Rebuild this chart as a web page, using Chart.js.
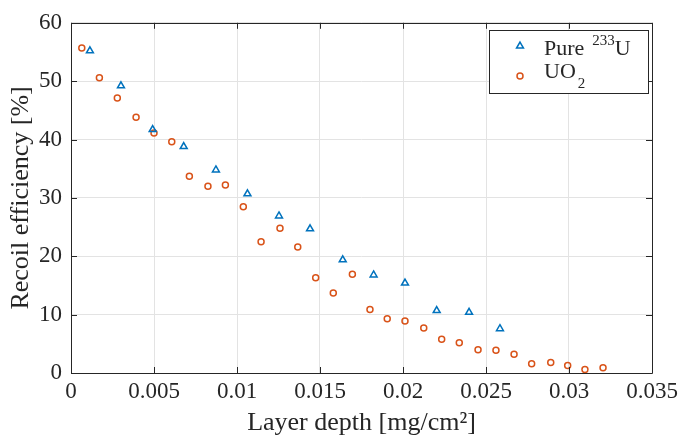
<!DOCTYPE html>
<html>
<head>
<meta charset="utf-8">
<script src="https://cdn.jsdelivr.net/npm/chart.js@4.4.0/dist/chart.umd.min.js"></script>
<style>
  html, body { margin: 0; padding: 0; background: #fff; }
</style>
</head>
<body>
<canvas id="chart" width="683" height="441"></canvas>
<script>
// Data
const pureDepth = [0.00114, 0.00301, 0.00492, 0.00679, 0.00873, 0.01063, 0.01253,
  0.0144, 0.01637, 0.01823, 0.02012, 0.02203, 0.02398, 0.02584];
const pureEff = [55.2, 49.2, 41.7, 38.8, 34.8, 30.7, 26.9, 24.7, 19.4, 16.8, 15.4, 10.7, 10.4, 7.6];

const uo2Depth = [0.00065, 0.00171, 0.00279, 0.00392, 0.0050, 0.00607, 0.00713, 0.00825,
  0.0093, 0.01038, 0.01145, 0.01259, 0.01366, 0.01474, 0.0158, 0.01695, 0.01801, 0.01905,
  0.02012, 0.02125, 0.02233, 0.02339, 0.02452, 0.0256, 0.02669, 0.02775, 0.0289, 0.02992,
  0.03096, 0.03205];
const uo2Eff = [55.7, 50.6, 47.1, 43.8, 41.1, 39.6, 33.7, 32.0, 32.2, 28.5, 22.5, 24.8,
  21.6, 16.3, 13.7, 16.9, 10.9, 9.3, 8.9, 7.7, 5.8, 5.2, 4.0, 3.9, 3.2, 1.6, 1.8, 1.3, 0.6, 0.9];

const xTicks = [0, 0.005, 0.01, 0.015, 0.02, 0.025, 0.03, 0.035];
const xTickLabels = ['0', '0.005', '0.01', '0.015', '0.02', '0.025', '0.03', '0.035'];
const yTicks = [0, 10, 20, 30, 40, 50, 60];
const yTickLabels = ['0', '10', '20', '30', '40', '50', '60'];

// Colours / fonts
const BLUE = '#0072BD';
const ORANGE = '#D95319';
const AXIS = '#262626';
const GRID = '#e3e3e3';
const SERIF = '"Liberation Serif", "DejaVu Serif", serif';

function toPoints(xs, ys) {
  return xs.map((x, i) => ({ x: x, y: ys[i] }));
}

// Box round the plot with inward ticks on all four sides
const boxPlugin = {
  id: 'box',
  afterDraw(chart) {
    const { ctx, chartArea: a, scales } = chart;
    const tick = 6;
    ctx.save();
    ctx.strokeStyle = AXIS;
    ctx.lineWidth = 1;
    ctx.beginPath();
    ctx.rect(Math.round(a.left) + 0.5, Math.round(a.top) + 0.5,
      Math.round(a.right - a.left), Math.round(a.bottom - a.top));
    xTicks.forEach(v => {
      const px = Math.round(scales.x.getPixelForValue(v)) + 0.5;
      ctx.moveTo(px, a.bottom); ctx.lineTo(px, a.bottom - tick);
      ctx.moveTo(px, a.top); ctx.lineTo(px, a.top + tick);
    });
    yTicks.forEach(v => {
      const py = Math.round(scales.y.getPixelForValue(v)) + 0.5;
      ctx.moveTo(a.left, py); ctx.lineTo(a.left + tick, py);
      ctx.moveTo(a.right, py); ctx.lineTo(a.right - tick, py);
    });
    ctx.stroke();
    ctx.restore();
  }
};

// Legend with proper super/subscripts
const legendPlugin = {
  id: 'texLegend',
  afterDraw(chart) {
    const ctx = chart.ctx;
    const bx = 489.5, by = 30.5, bw = 159, bh = 63;
    ctx.save();
    ctx.fillStyle = '#fff';
    ctx.fillRect(bx, by, bw, bh);
    ctx.strokeStyle = AXIS;
    ctx.lineWidth = 1;
    ctx.strokeRect(bx, by, bw, bh);

    const ds = chart.data.datasets;
    [[0, 46], [1, 76]].forEach(([i, y]) => {
      ctx.strokeStyle = ds[i].borderColor;
      ctx.fillStyle = 'rgba(0,0,0,0)';
      ctx.lineWidth = ds[i].borderWidth;
      Chart.helpers.drawPoint(ctx, {
        pointStyle: ds[i].pointStyle, radius: ds[i].pointRadius,
        borderWidth: ds[i].borderWidth, rotation: 0
      }, 520, y);
    });

    ctx.fillStyle = AXIS;
    ctx.textBaseline = 'alphabetic';
    ctx.textAlign = 'left';
    const big = '22px ' + SERIF, small = '15px ' + SERIF;
    let x = 544;
    ctx.font = big;
    ctx.fillText('Pure', x, 55);
    x += ctx.measureText('Pure').width + 8;
    ctx.font = small;
    ctx.fillText('233', x, 45);
    x += ctx.measureText('233').width;
    ctx.font = big;
    ctx.fillText('U', x, 55);

    x = 544;
    ctx.fillText('UO', x, 78);
    x += ctx.measureText('UO').width + 2;
    ctx.font = small;
    ctx.fillText('2', x, 88);
    ctx.restore();
  }
};

const ctx = document.getElementById('chart').getContext('2d');
const chart = new Chart(ctx, {
  type: 'scatter',
  data: {
    datasets: [
      {
        label: 'Pure 233U',
        data: toPoints(pureDepth, pureEff),
        pointStyle: 'triangle',
        pointRadius: 4,
        borderWidth: 1.5,
        borderColor: BLUE,
        backgroundColor: 'rgba(0,0,0,0)',
      },
      {
        label: 'UO2',
        data: toPoints(uo2Depth, uo2Eff),
        pointStyle: 'circle',
        pointRadius: 3,
        borderWidth: 1.5,
        borderColor: ORANGE,
        backgroundColor: 'rgba(0,0,0,0)',
      },
    ],
  },
  options: {
    responsive: false,
    animation: false,
    devicePixelRatio: 1,
    layout: { padding: { left: 0, right: 31, top: 16, bottom: 0 } },
    plugins: {
      legend: { display: false },
      tooltip: { enabled: false },
    },
    scales: {
      x: {
        type: 'linear',
        min: 0,
        max: 0.035,
        afterBuildTicks: (s) => { s.ticks = xTicks.map(v => ({ value: v })); },
        afterFit: (s) => { s.height = 68; },
        grid: { color: GRID, drawTicks: false },
        border: { display: false },
        ticks: {
          padding: 5,
          color: AXIS,
          font: { family: SERIF, size: 23 },
          maxRotation: 0,
          callback: (v) => xTickLabels[xTicks.indexOf(v)] ?? '',
        },
        title: {
          display: true,
          text: 'Layer depth [mg/cm²]',
          color: AXIS,
          font: { family: SERIF, size: 26 },
          padding: { top: 0, bottom: 2 },
        },
      },
      y: {
        min: 0,
        max: 60,
        afterBuildTicks: (s) => { s.ticks = yTicks.map(v => ({ value: v })); },
        afterFit: (s) => { s.width = 71; },
        grid: { color: GRID, drawTicks: false },
        border: { display: false },
        ticks: {
          padding: 9,
          color: AXIS,
          font: { family: SERIF, size: 23 },
          callback: (v) => yTickLabels[yTicks.indexOf(v)] ?? '',
        },
        title: {
          display: true,
          text: 'Recoil efficiency [%]',
          color: AXIS,
          font: { family: SERIF, size: 26 },
          padding: { top: 6, bottom: 0 },
        },
      },
    },
  },
  plugins: [boxPlugin, legendPlugin],
});
</script>
</body>
</html>
